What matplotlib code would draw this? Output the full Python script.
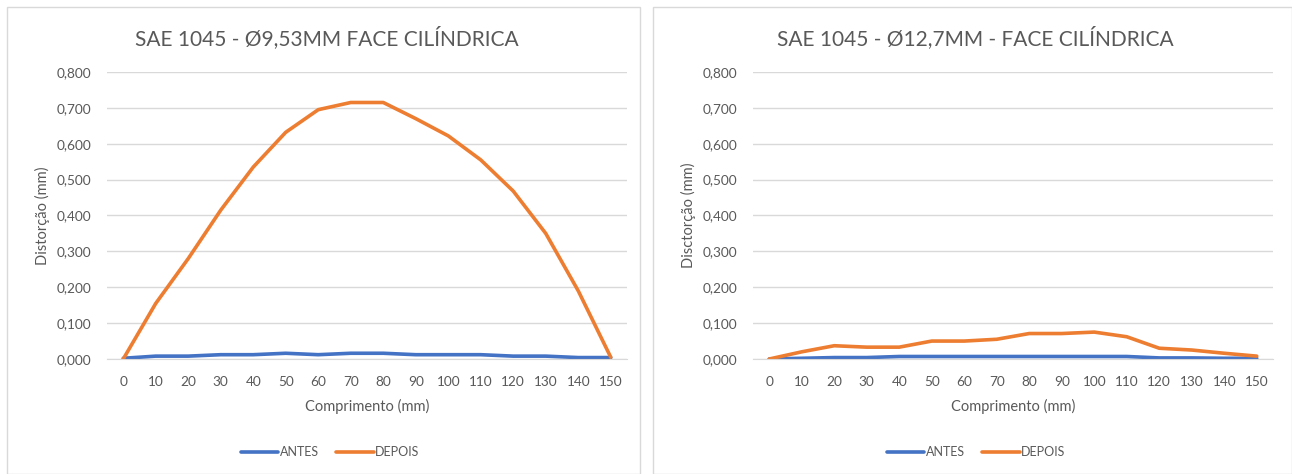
import matplotlib
matplotlib.use("Agg")
import matplotlib.pyplot as plt
from matplotlib.patches import Rectangle
from matplotlib.ticker import FuncFormatter

plt.rcParams['font.family'] = ['Lato', 'DejaVu Sans']

# ── Data ──────────────────────────────────────────────────────────────────────
comprimento = [0, 10, 20, 30, 40, 50, 60, 70, 80, 90, 100, 110, 120, 130, 140, 150]

antes_953 = [0.002, 0.008, 0.008, 0.012, 0.012, 0.016, 0.012, 0.016,
             0.016, 0.012, 0.012, 0.012, 0.008, 0.008, 0.004, 0.004]
depois_953 = [0.000, 0.155, 0.280, 0.415, 0.535, 0.632, 0.695, 0.715,
              0.715, 0.670, 0.622, 0.555, 0.468, 0.350, 0.190, 0.005]

antes_127 = [0.000, 0.002, 0.004, 0.004, 0.007, 0.007, 0.007, 0.007,
             0.007, 0.007, 0.007, 0.007, 0.003, 0.003, 0.002, 0.002]
depois_127 = [0.000, 0.020, 0.037, 0.033, 0.033, 0.050, 0.050, 0.055,
              0.071, 0.071, 0.075, 0.062, 0.030, 0.025, 0.016, 0.008]

titles = ["SAE 1045 - Ø9,53MM FACE CILÍNDRICA", "SAE 1045 - Ø12,7MM - FACE CILÍNDRICA"]
ylabels = ["Distorção (mm)", "Disctorção (mm)"]
series = [(antes_953, depois_953), (antes_127, depois_127)]

BLUE = '#4472C4'
ORANGE = '#ED7D31'
TEXT = '#595959'
GRID = '#D9D9D9'

W, H = 1292, 474
fig = plt.figure(figsize=(W / 100, H / 100), dpi=100)
fig.patch.set_facecolor('white')


def px(x0, y0, x1, y1):
    """pixel box (top-left origin) -> figure fraction rect"""
    return [x0 / W, 1 - y1 / H, (x1 - x0) / W, (y1 - y0) / H]


panels = [(7, 640), (653, 1292)]
offsets = [0, 646]

for i, ((p0, p1), off) in enumerate(zip(panels, offsets)):
    # panel border
    fig.patches.append(Rectangle((p0 / W, 0), (p1 - p0) / W, 1 - 7 / H,
                                 transform=fig.transFigure, fill=False,
                                 edgecolor='#D9D9D9', linewidth=1.0))

    ax = fig.add_axes(px(107 + off, 72, 627 + off, 359))
    antes, depois = series[i]
    xs = range(len(comprimento))
    ax.plot(xs, antes, color=BLUE, linewidth=2.6, label='ANTES', solid_capstyle='round')
    ax.plot(xs, depois, color=ORANGE, linewidth=2.6, label='DEPOIS', solid_capstyle='round')

    ax.set_xlim(-0.5, len(comprimento) - 0.5)
    ax.set_ylim(0, 0.8)
    ax.set_yticks([0.1 * k for k in range(9)])
    ax.yaxis.set_major_formatter(FuncFormatter(lambda v, _: f"{v:.3f}".replace('.', ',')))
    ax.set_xticks(list(xs))
    ax.set_xticklabels([str(c) for c in comprimento])
    ax.tick_params(length=0, labelsize=9.8, colors=TEXT)
    ax.tick_params(axis='x', pad=12)
    ax.tick_params(axis='y', pad=11)
    ax.grid(axis='y', color=GRID, linewidth=1.0)
    ax.set_axisbelow(True)
    for s in ['top', 'right', 'left']:
        ax.spines[s].set_visible(False)
    ax.spines['bottom'].set_color(GRID)

    ax.set_xlabel("Comprimento (mm)", fontsize=10.5, color=TEXT, labelpad=8)
    ax.set_ylabel(ylabels[i], fontsize=10.5, color=TEXT, labelpad=5)

    cx = (p0 + p1) / 2 + 3
    fig.text(cx / W, 1 - 38 / H, titles[i], ha='center', va='center',
             fontsize=15, color=TEXT)

    fig.legend(handles=ax.get_lines(), labels=['ANTES', 'DEPOIS'],
               loc='center', bbox_to_anchor=((330 + off) / W, 1 - 452 / H),
               ncol=2, frameon=False, fontsize=9, labelcolor=TEXT,
               handlelength=3.0, handletextpad=0.1, columnspacing=1.4)

fig.savefig('out.png', dpi=100, facecolor='white')
